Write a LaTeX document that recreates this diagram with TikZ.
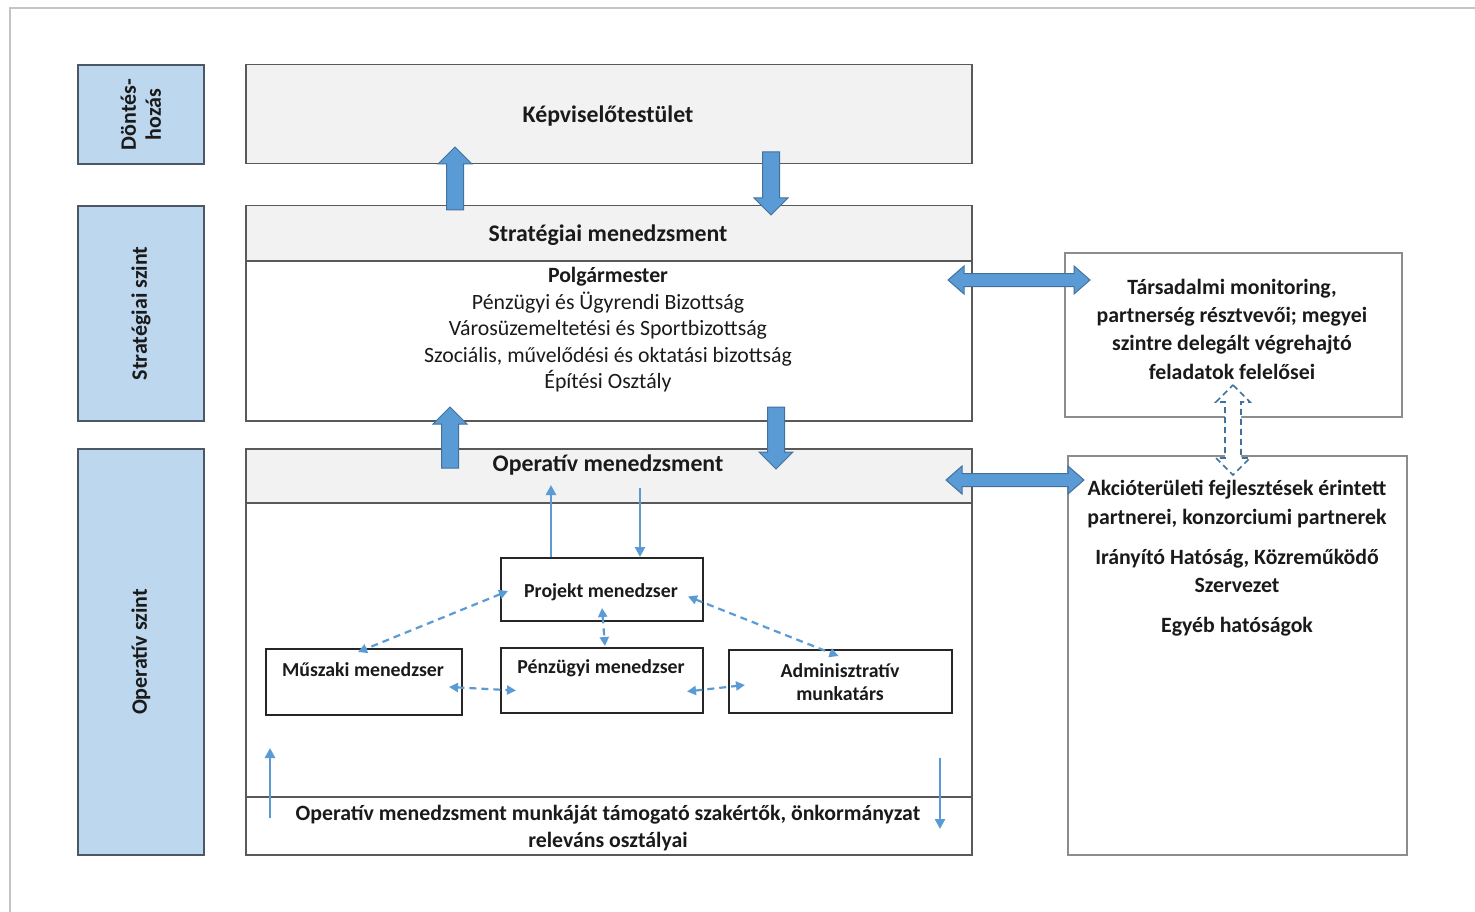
\documentclass[tikz,border=0pt]{standalone}
\usepackage{fontspec}
\setmainfont{Carlito}
\usetikzlibrary{arrows.meta}
\definecolor{lblfill}{HTML}{BDD7EE}
\definecolor{lbldraw}{HTML}{4D5866}
\definecolor{hdrfill}{HTML}{F2F2F2}
\definecolor{boxdraw}{HTML}{595959}
\definecolor{rbdraw}{HTML}{8C8C8C}
\definecolor{arrfill}{HTML}{5B9BD5}
\definecolor{arrdraw}{HTML}{41719C}
\definecolor{framegray}{HTML}{C4C4C4}
\definecolor{txt}{HTML}{1A1A1A}
\newcommand\vbarr[4][blockarr]{%
  \pgfmathsetmacro\hy{#4-17*sign(#4-#3)}%
  \draw[#1] (#2-8.5,#3) -- (#2-8.5,\hy) -- (#2-17,\hy) -- (#2,#4) -- (#2+17,\hy) -- (#2+8.5,\hy) -- (#2+8.5,#3) -- cycle;}
\newcommand\vdblarr[4][blockarr]{%
  \draw[#1] (#2,#3) -- (#2+17,#3+17) -- (#2+8,#3+17) -- (#2+8,#4-17) -- (#2+17,#4-17) -- (#2,#4) -- (#2-17,#4-17) -- (#2-8,#4-17) -- (#2-8,#3+17) -- (#2-17,#3+17) -- cycle;}
\newcommand\hdblarr[3]{%
  \draw[blockarr] (#2,#1) -- (#2+16,#1-14) -- (#2+16,#1-6.5) -- (#3-16,#1-6.5) -- (#3-16,#1-14) -- (#3,#1) -- (#3-16,#1+14) -- (#3-16,#1+6.5) -- (#2+16,#1+6.5) -- (#2+16,#1+14) -- cycle;}
\tikzset{
  lbl/.style={draw=lbldraw, fill=lblfill, line width=1.8pt, anchor=north west, inner sep=0pt},
  mainbox/.style={draw=boxdraw, line width=1.5pt, anchor=north west, inner sep=0pt},
  smallbox/.style={draw=black!85, line width=2pt, anchor=north west, inner sep=0pt, fill=white},
  rightbox/.style={draw=rbdraw, line width=1.5pt, anchor=north west, inner sep=0pt},
  lbltext/.style={rotate=90, font=\fontsize{22}{25}\selectfont\bfseries, text=txt, align=center, inner sep=0pt},
  bigtext/.style={font=\fontsize{21.8}{26.5}\selectfont, text=txt, align=center, inner sep=0pt},
  hdrtext/.style={font=\fontsize{23.8}{28}\selectfont\bfseries, text=txt, align=center, inner sep=0pt},
  bigbold/.style={font=\fontsize{21.8}{27}\selectfont\bfseries, text=txt, align=center, inner sep=0pt},
  smalltext/.style={font=\fontsize{19.8}{23}\selectfont\bfseries, text=txt, align=center, inner sep=0pt},
  righttext/.style={font=\fontsize{21.8}{28.3}\selectfont\bfseries, text=txt, align=center, inner sep=0pt},
  blockarr/.style={fill=arrfill, draw=arrdraw, line width=1pt, line join=miter},
  dashblock/.style={draw=arrdraw, line width=1.6pt, dash pattern=on 6pt off 4pt, fill=white},
  thinarr/.style={draw=arrfill, line width=2.6pt, -{Triangle[length=10pt,width=10pt]}},
  dasharr/.style={draw=arrfill, line width=2.2pt, dash pattern=on 7pt off 5pt, {Triangle[length=9pt,width=9pt]}-{Triangle[length=9pt,width=9pt]}},
}
\begin{document}
\begin{tikzpicture}[x=1pt,y=-1pt]
\useasboundingbox (0,0) rectangle (1475,912);
\fill[white] (0,0) rectangle (1475,912);
\draw[framegray, line width=2.5pt] (10,912) -- (10,8) -- (1475,8);

% left level labels
\node[lbl, minimum width=126pt, minimum height=99pt] (lbl1) at (77,64) {};
\node[lbl, minimum width=126pt, minimum height=215pt] (lbl2) at (77,205) {};
\node[lbl, minimum width=126pt, minimum height=406pt] (lbl3) at (77,448) {};
\node[lbltext] (lbl1t) at (lbl1.center) {Döntés-\\hozás};
\node[lbltext] (lbl2t) at (lbl2.center) {Stratégiai szint};
\node[lbltext] (lbl3t) at (lbl3.center) {Operatív szint};

% main boxes
\node[mainbox, fill=hdrfill, minimum width=726pt, minimum height=99pt] (kep) at (245,64) {};
\node[hdrtext] (kept) at (608,116) {Képviselőtestület};

\node[mainbox, minimum width=726pt, minimum height=215pt] (strat) at (245,205) {};
\node[mainbox, fill=hdrfill, minimum width=726pt, minimum height=55pt] (strath) at (245,205) {};
\node[hdrtext] (stratht) at (608,235) {Stratégiai menedzsment};
\node[bigtext] (stratt) at (608,330) {\textbf{Polgármester}\\Pénzügyi és Ügyrendi Bizottság\\Városüzemeltetési és Sportbizottság\\Szociális, művelődési és oktatási bizottság\\Építési Osztály};

\node[mainbox, minimum width=726pt, minimum height=406pt] (oper) at (245,448) {};
\node[mainbox, fill=hdrfill, minimum width=726pt, minimum height=54pt] (operh) at (245,448) {};
\node[hdrtext] (operht) at (608,465) {Operatív menedzsment};
\node[mainbox, minimum width=726pt, minimum height=58pt] (operb) at (245,796) {};
\node[bigbold] (operbt) at (608,828) {Operatív menedzsment munkáját támogató szakértők, önkormányzat\\releváns osztályai};

% small boxes
\node[smallbox, minimum width=202pt, minimum height=63pt] (pm) at (500,557) {};
\node[smalltext] (pmt) at (601,592) {Projekt menedzser};
\node[smallbox, minimum width=196pt, minimum height=66pt] (mm) at (265,648) {};
\node[smalltext] (mmt) at (363,670) {Műszaki menedzser};
\node[smallbox, minimum width=202pt, minimum height=65pt] (pf) at (500,647) {};
\node[smalltext] (pft) at (601,668) {Pénzügyi menedzser};
\node[smallbox, minimum width=223pt, minimum height=63pt] (ad) at (728,649) {};
\node[smalltext] (adt) at (840,682) {Adminisztratív\\munkatárs};

% right boxes
\node[rightbox, minimum width=337pt, minimum height=164pt] (tars) at (1064,252) {};
\node[righttext] (tarst) at (1232,329) {Társadalmi monitoring,\\partnerség résztvevői; megyei\\szintre delegált végrehajtó\\feladatok felelősei};
\node[rightbox, minimum width=339pt, minimum height=399pt] (akc) at (1067,455) {};
\node[righttext] (akct) at (1237,558.5) {Akcióterületi fejlesztések érintett\\partnerei, konzorciumi partnerek\\[12pt]Irányító Hatóság, Közreműködő\\Szervezet\\[12pt]Egyéb hatóságok};

% block arrows
\vbarr{455}{210}{147}
\vbarr{771}{152}{215}
\vbarr{450}{468}{407}
\vbarr{776}{407}{469}
\hdblarr{280}{948}{1090}
\hdblarr{480}{946}{1084}
\vdblarr[dashblock]{1233}{385}{475}

% thin arrows
\coordinate (a1) at (551,485);
\coordinate (a2) at (640,488);
\draw[thinarr] (pm.north -| a1) -- (a1);
\draw[thinarr] (a2) -- (pm.north -| a2);
\coordinate (b1s) at (270,818);
\coordinate (b1e) at (270,748);
\coordinate (b2s) at (940,758);
\coordinate (b2e) at (940,829);
\draw[thinarr] (b1s) -- (b1e);
\draw[thinarr] (b2s) -- (b2e);

% dashed arrows
\draw[dasharr] ([xshift=8pt,yshift=-1.5pt]pm.west) -- ([xshift=-6pt,yshift=-4pt]mm.north);
\draw[dasharr] ([yshift=14pt]pm.south) -- ([xshift=3pt,yshift=1pt]pf.north);
\draw[dasharr] ([xshift=-16pt,yshift=-7pt]pm.east) -- ([xshift=-2pt,yshift=-7pt]ad.north);
\draw[dasharr] ([xshift=-14pt,yshift=-5pt]mm.east) -- ([xshift=16pt,yshift=-10pt]pf.west);
\draw[dasharr] ([xshift=-17pt,yshift=-11pt]pf.east) -- ([xshift=17pt,yshift=-3.5pt]ad.west);
\end{tikzpicture}
\end{document}
